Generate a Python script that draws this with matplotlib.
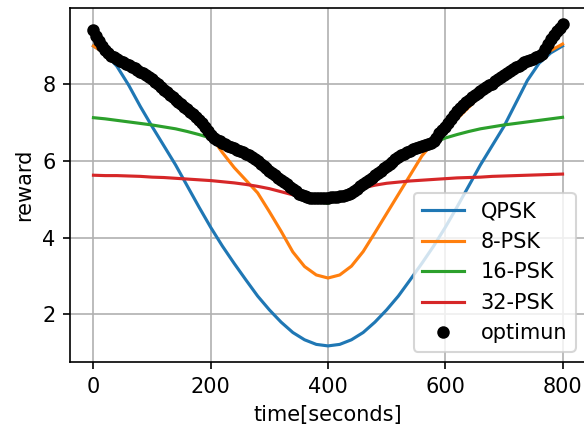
import numpy as np
import matplotlib
matplotlib.use("Agg")
import matplotlib.pyplot as plt

# time axis for the modulation curves (every 20 s)
t_mod = list(range(0, 801, 20))

qpsk = [9.0, 8.8, 8.47, 7.98, 7.42, 6.9, 6.4, 5.9, 5.35, 4.8,
        4.27, 3.78, 3.33, 2.9, 2.48, 2.12, 1.8, 1.53, 1.34, 1.22,
        1.18,
        1.22, 1.34, 1.53, 1.8, 2.12, 2.48, 2.9, 3.33, 3.78, 4.27,
        4.8, 5.35, 5.9, 6.4, 6.9, 7.5, 8.1, 8.55, 8.82, 9.0]
psk8 = [9.0, 8.8, 8.6, 8.44, 8.27, 8.07, 7.82, 7.55, 7.27, 6.98,
        6.65, 6.22, 5.83, 5.5, 5.17, 4.68, 4.17, 3.63, 3.25, 3.03,
        2.95,
        3.03, 3.26, 3.64, 4.13, 4.63, 5.13, 5.63, 6.13, 6.5, 6.8,
        7.1, 7.4, 7.7, 7.93, 8.15, 8.36, 8.52, 8.66, 8.88, 9.05]
psk16 = [7.13, 7.1, 7.06, 7.02, 6.98, 6.94, 6.89, 6.84, 6.77, 6.69,
         6.6, 6.48, 6.34, 6.17, 5.97, 5.74, 5.49, 5.25, 5.06, 4.94,
         4.9,
         5.02, 5.1, 5.32, 5.56, 5.8, 6.03, 6.22, 6.36, 6.48, 6.6,
         6.69, 6.77, 6.84, 6.89, 6.94, 6.98, 7.02, 7.06, 7.1, 7.14]
psk32 = [5.63, 5.62, 5.62, 5.61, 5.6, 5.58, 5.57, 5.55, 5.53, 5.51,
         5.49, 5.46, 5.43, 5.39, 5.34, 5.28, 5.2, 5.12, 5.06, 5.03,
         5.02,
         5.05, 5.15, 5.3, 5.37, 5.42, 5.45, 5.48, 5.5, 5.52, 5.54,
         5.56, 5.57, 5.58, 5.6, 5.61, 5.62, 5.63, 5.64, 5.65, 5.66]

# optimum reward (every 5 s)
t_opt = list(range(0, 801, 5))
optimum = [9.42, 9.27, 9.12, 9.0, 8.9, 8.82, 8.75, 8.7, 8.66, 8.62,
           8.58, 8.54, 8.5, 8.46, 8.42, 8.38, 8.33, 8.29, 8.24, 8.19,
           8.13, 8.07, 8.0, 7.93, 7.86, 7.8, 7.73, 7.66, 7.6, 7.54,
           7.48, 7.41, 7.35, 7.29, 7.22, 7.15, 7.08, 7.0, 6.9, 6.79,
           6.67, 6.6, 6.55, 6.51, 6.47, 6.44, 6.4, 6.37, 6.33, 6.3,
           6.27, 6.23, 6.19, 6.15, 6.1, 6.05, 5.99, 5.93, 5.87, 5.81,
           5.75, 5.69, 5.63, 5.57, 5.51, 5.45, 5.39, 5.33, 5.27, 5.21,
           5.15, 5.11, 5.08, 5.06, 5.04, 5.03, 5.03, 5.03, 5.03, 5.03,
           5.04, 5.05, 5.06, 5.07, 5.09, 5.1, 5.12, 5.14, 5.17, 5.22,
           5.28, 5.34, 5.4, 5.45, 5.51, 5.57, 5.63, 5.69, 5.75, 5.81,
           5.87, 5.92, 5.98, 6.04, 6.1, 6.15, 6.19, 6.23, 6.27, 6.31,
           6.34, 6.37, 6.4, 6.42, 6.45, 6.48, 6.53, 6.61, 6.72, 6.81,
           6.9, 7.0, 7.1, 7.2, 7.3, 7.38, 7.45, 7.53, 7.6, 7.66,
           7.72, 7.78, 7.83, 7.88, 7.93, 7.97, 8.02, 8.08, 8.13, 8.19,
           8.24, 8.29, 8.34, 8.39, 8.44, 8.49, 8.53, 8.57, 8.6, 8.63,
           8.67, 8.7, 8.74, 8.8, 8.92, 9.05, 9.18, 9.28, 9.38, 9.48,
           9.57]

labels = ["QPSK", "8-PSK", "16-PSK", "32-PSK"]


def main():
    fig = plt.figure(figsize=(584 / 150, 432 / 150), dpi=150)
    ax = fig.add_axes([70 / 584, 70 / 432, 516 / 584, 354 / 432])
    for series, lab in zip([qpsk, psk8, psk16, psk32], labels):
        ax.plot(t_mod, series, label=lab)
    ax.plot(t_opt, optimum, "o", color="k", ms=5, label="optimun")
    ax.set_xlabel("time[seconds]")
    ax.set_ylabel("reward")
    ax.set_xticks([0, 200, 400, 600, 800])
    ax.set_yticks([2, 4, 6, 8])
    ax.grid(True)
    ax.legend(loc="lower right")
    fig.savefig("out.png", dpi=150)


if __name__ == "__main__":
    main()
